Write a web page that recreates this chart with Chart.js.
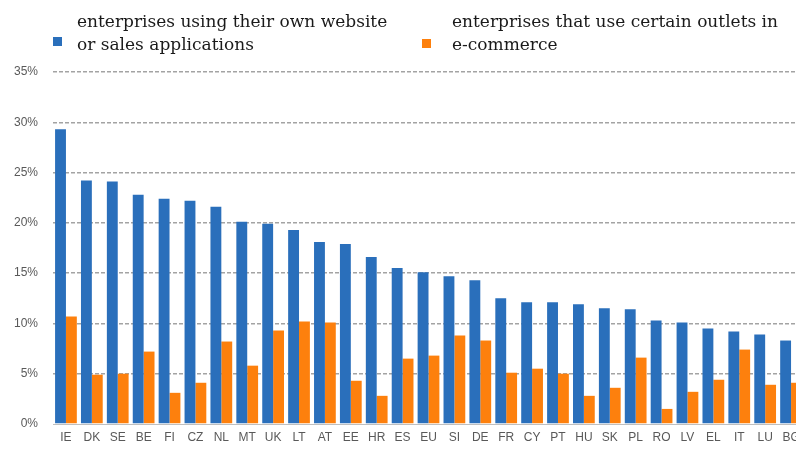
<!DOCTYPE html>
<html>
<head>
<meta charset="utf-8">
<script src="https://cdn.jsdelivr.net/npm/chart.js@4/dist/chart.umd.min.js"></script>
<style>
    html, body { margin: 0; padding: 0; background: #fff; }
    #wrap { position: relative; width: 796px; height: 452px; overflow: hidden; }
    #chart-box { position: absolute; left: 0; top: 0; width: 806px; height: 452px; }
    .legend-item { position: absolute; font-family: "DejaVu Serif", "Liberation Serif", serif; font-size: 17px; line-height: 23px; color: #1a1a1a; white-space: nowrap; }
    .legend-box { position: absolute; width: 9px; height: 9px; }
</style>
</head>
<body>
<div id="wrap">
    <div id="chart-box"><canvas id="ecommerce-chart"></canvas></div>
    <div id="legend"></div>
</div>
<script>
// Country codes, in descending order of own website / app use
const categories = ['IE', 'DK', 'SE', 'BE', 'FI', 'CZ', 'NL', 'MT', 'UK', 'LT', 'AT', 'EE', 'HR', 'ES', 'EU',
    'SI', 'DE', 'FR', 'CY', 'PT', 'HU', 'SK', 'PL', 'RO', 'LV', 'EL', 'IT', 'LU', 'BG'];

// Share of enterprises (%)
const ownWebsite = [29.3, 24.2, 24.1, 22.8, 22.4, 22.2, 21.6, 20.1, 19.9, 19.3, 18.1, 17.9, 16.6, 15.5, 15.1,
    14.7, 14.3, 12.5, 12.1, 12.1, 11.9, 11.5, 11.4, 10.3, 10.1, 9.5, 9.2, 8.9, 8.3];
const outlets = [10.7, 4.9, 5.0, 7.2, 3.1, 4.1, 8.2, 5.8, 9.3, 10.2, 10.1, 4.3, 2.8, 6.5, 6.8,
    8.8, 8.3, 5.1, 5.5, 5.0, 2.8, 3.6, 6.6, 1.5, 3.2, 4.4, 7.4, 3.9, 4.1];

const seriesLabels = [
    ['enterprises using their own website', 'or sales applications'],
    ['enterprises that use certain outlets in', 'e-commerce']
];
const seriesColors = ['#2a6fbb', '#fd800d'];

const yMax = 35;
const yStep = 5;

const ctx = document.getElementById('ecommerce-chart').getContext('2d');
const chart = new Chart(ctx, {
    type: 'bar',
    data: {
        labels: categories,
        datasets: [
            { label: seriesLabels[0].join(' '), data: ownWebsite, backgroundColor: seriesColors[0] },
            { label: seriesLabels[1].join(' '), data: outlets, backgroundColor: seriesColors[1] }
        ]
    },
    options: {
        responsive: true,
        maintainAspectRatio: false,
        animation: false,
        layout: { padding: { top: 72, right: 2, bottom: 0, left: 0 } },
        datasets: {
            bar: { categoryPercentage: 0.84, barPercentage: 1.0, borderWidth: 0 }
        },
        plugins: {
            legend: { display: false },
            tooltip: { enabled: false }
        },
        scales: {
            x: {
                grid: { display: false, drawTicks: false },
                border: { display: true, color: '#bfbfbf', width: 1 },
                ticks: {
                    color: '#595959',
                    font: { family: 'Liberation Sans', size: 12 },
                    padding: 6,
                    maxRotation: 0,
                    autoSkip: false
                },
                afterFit: function(scale) { scale.height = 28; }
            },
            y: {
                min: 0,
                max: yMax,
                border: { display: false, dash: [4, 2] },
                grid: {
                    drawTicks: false,
                    // baseline is drawn solid by the x border, so hide the dashed 0% line
                    color: function(c) { return c.tick && c.tick.value === 0 ? 'rgba(0,0,0,0)' : '#a3a3a3'; },
                    lineWidth: 1.5
                },
                ticks: {
                    stepSize: yStep,
                    color: '#595959',
                    font: { family: 'Liberation Sans', size: 12 },
                    padding: 15,
                    callback: function(v) { return v + '%'; }
                },
                afterFit: function(scale) { scale.width = 53; }
            }
        }
    }
});

// Two-line legend, laid out as HTML above the plot
const legendSpots = [
    { text: 77, box: 53, boxTop: 37 },
    { text: 452, box: 422, boxTop: 39 }
];
const legend = document.getElementById('legend');
seriesLabels.forEach(function(lines, i) {
    const box = document.createElement('div');
    box.className = 'legend-box';
    box.style.left = legendSpots[i].box + 'px';
    box.style.top = legendSpots[i].boxTop + 'px';
    box.style.background = seriesColors[i];
    legend.appendChild(box);

    const item = document.createElement('div');
    item.className = 'legend-item';
    item.style.left = legendSpots[i].text + 'px';
    item.style.top = '10px';
    item.innerHTML = lines.join('<br>');
    legend.appendChild(item);
});
</script>
</body>
</html>
